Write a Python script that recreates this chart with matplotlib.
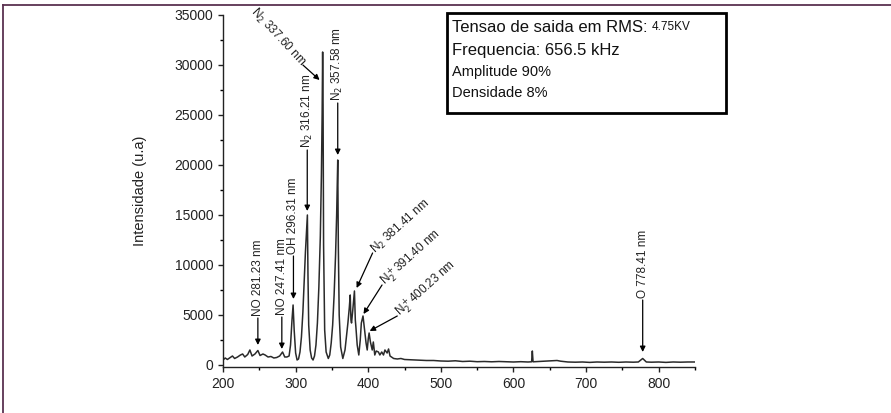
import matplotlib.pyplot as plt
from matplotlib.lines import Line2D
from matplotlib.patches import Rectangle
from matplotlib.ticker import MultipleLocator

plt.rcParams['font.family'] = ['Liberation Sans', 'DejaVu Sans']

# Espectro
wl = [200, 203, 206, 210, 213, 216, 220, 224, 227, 230, 234, 237, 240, 244, 248,
      251, 255, 258, 262, 266, 270, 274, 278, 282, 285, 288, 291, 293, 295, 296.5,
      298, 300, 302, 304, 306, 308, 310, 312, 313.5, 315, 316.2, 317, 318, 320, 322,
      324, 326, 328, 330, 332, 334, 335.5, 336.5, 337.2, 337.8, 338.5, 340, 342, 345,
      347, 349, 351, 353, 355, 356.5, 357.5, 358, 358.8, 360, 362, 365, 368,
      370, 372, 374, 375.2, 376.2, 377, 378.6, 381, 382.2, 383, 384.8, 387, 389, 390.5,
      392.8, 395, 397, 398.6, 400, 401.2, 403, 405.5, 407, 409, 411, 414, 416, 418.6,
      421, 423, 426, 428, 430, 435, 440, 445, 450, 460, 470, 480, 490, 500, 510, 520,
      530, 540, 550, 560, 570, 580, 590, 600, 610, 620, 625, 626, 627, 635, 645, 655,
      660, 665, 675, 685, 695, 705, 715, 725, 735, 745, 755, 765, 772, 778, 783, 790,
      800, 810, 820, 830, 840, 850]
inten = [500, 700, 550, 750, 900, 650, 800, 1000, 1100, 800, 1050, 1500, 900, 1100, 1450,
         950, 1100, 1000, 800, 850, 700, 750, 900, 1300, 800, 800, 900, 2000, 4500, 6000,
         3500, 1200, 500, 600, 1300, 2800, 5300, 8800, 11300, 13300, 15000, 9000, 4000, 1500, 700,
         500, 900, 2000, 4200, 7800, 12800, 19000, 25000, 31300, 26000, 12000, 3500, 1300, 650,
         1000, 2200, 4000, 7000, 11000, 15000, 19000, 20500, 12000, 5000, 1800, 650, 1500,
         2800, 4200, 5800, 7000, 4500, 4200, 5400, 7400, 4500, 3800, 2000, 1000, 2500, 4200,
         4900, 3500, 2200, 1500, 2600, 3200, 2300, 1500, 2300, 1000, 1400, 1300, 1000, 1300,
         1000, 1500, 1200, 1600, 900, 650, 600, 650, 550, 520, 480, 450, 450, 400, 380, 420,
         350, 380, 330, 350, 320, 350, 330, 300, 330, 300, 320, 1400, 320, 350, 380, 420,
         450, 380, 300, 280, 300, 260, 300, 280, 300, 270, 300, 280, 300, 650, 300, 280,
         300, 260, 300, 280, 300, 300]

# Picos assinalados: texto, posicao da seta (x), inicio da seta (y), ponta (y)
vert_labels = ["NO 281.23 nm", "NO 247.41 nm", "OH 296.31 nm",
               "N$_2$ 316.21 nm", "N$_2$ 357.58 nm", "O 778.41 nm"]
vert_x = [248, 281, 297, 316, 358, 778]
vert_tail = [4700, 4800, 10900, 21500, 26200, 6500]
vert_tip = [2000, 1600, 6600, 15400, 21000, 1300]

diag_labels = ["N$_2$ 381.41 nm", "N$_2^+$391.40 nm", "N$_2^+$400.23 nm"]
diag_tail_x = [406, 419, 440]
diag_tail_y = [11200, 8000, 4900]
diag_tip_x = [384, 393.5, 402]
diag_tip_y = [7700, 5100, 3400]

fig = plt.figure(figsize=(8.91, 4.13), dpi=100)
ax = fig.add_axes([0.2503, 0.1114, 0.5297, 0.8523])

ax.plot(wl, inten, color='#2a2a2a', lw=1.1)

ax.set_xlim(200, 850)
ax.set_ylim(-200, 35000)
ax.xaxis.set_major_locator(MultipleLocator(100))
ax.xaxis.set_minor_locator(MultipleLocator(50))
ax.yaxis.set_major_locator(MultipleLocator(5000))
ax.yaxis.set_minor_locator(MultipleLocator(2500))
ax.tick_params(which='major', direction='out', length=3.6, width=1.0,
               labelsize=10, colors='#222222')
ax.tick_params(which='minor', direction='out', length=2.2, width=1.0)
for s in ['top', 'right']:
    ax.spines[s].set_visible(False)
for s in ['left', 'bottom']:
    ax.spines[s].set_linewidth(1.0)
    ax.spines[s].set_color('#222222')

ax.set_ylabel("Intensidade (u.a)", fontsize=10.5, color='#222222')
ax.yaxis.set_label_coords(-0.161, 0.5)

arrow = dict(arrowstyle='-|>', color='black', lw=0.9, mutation_scale=8,
             shrinkA=0, shrinkB=0)

for lab, x, yt, yp in zip(vert_labels, vert_x, vert_tail, vert_tip):
    ax.annotate('', xy=(x, yp), xytext=(x, yt), arrowprops=arrow)
    ax.text(x, yt + 200, lab, rotation=90, ha='center', va='bottom',
            fontsize=8.5, color='#222222')

# N2 337.60 nm (texto inclinado)
ax.annotate('', xy=(333, 28500), xytext=(310, 30000), arrowprops=arrow)
ax.text(310, 30100, "N$_2$ 337.60 nm", rotation=-47, rotation_mode='anchor',
        ha='right', va='center', fontsize=8.5, color='#222222')

for lab, tx, ty, px, py in zip(diag_labels, diag_tail_x, diag_tail_y,
                               diag_tip_x, diag_tip_y):
    ax.annotate('', xy=(px, py), xytext=(tx, ty), arrowprops=arrow)
    ax.text(tx + 1, ty + 200, lab, rotation=42, rotation_mode='anchor',
            ha='left', va='center', fontsize=8.5, color='#222222')

# Caixa de parametros
fig.add_artist(Rectangle((447 / 891, 1 - 113 / 413), (726 - 447) / 891, 100 / 413,
                         transform=fig.transFigure, fill=False, lw=2.0,
                         edgecolor='black'))
fig.text(452 / 891, 1 - 27 / 413, "Tensao de saida em RMS:", fontsize=12,
         va='center', color='#111111')
fig.text(652 / 891, 1 - 27 / 413, "4.75KV", fontsize=8.5, va='center',
         color='#111111')
fig.text(452 / 891, 1 - 50 / 413, "Frequencia: 656.5 kHz", fontsize=12,
         va='center', color='#111111')
fig.text(452 / 891, 1 - 72 / 413, "Amplitude 90%", fontsize=10.5,
         va='center', color='#111111')
fig.text(452 / 891, 1 - 93 / 413, "Densidade 8%", fontsize=10.5,
         va='center', color='#111111')

# Moldura
fig.add_artist(Line2D([3 / 891, 1], [1 - 5 / 413, 1 - 5 / 413],
                      transform=fig.transFigure, color='#5b3150', lw=1.3))
fig.add_artist(Line2D([3 / 891, 3 / 891], [0, 1 - 5 / 413],
                      transform=fig.transFigure, color='#5b3150', lw=1.3))

fig.savefig("out.png", dpi=100)
